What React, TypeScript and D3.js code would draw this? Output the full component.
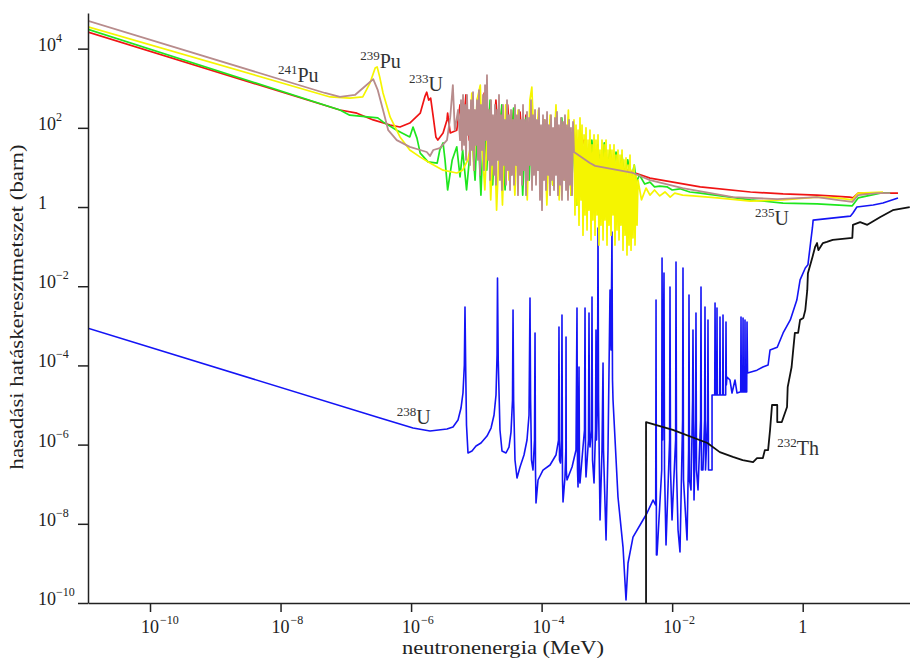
import React, { useEffect, useRef } from 'react';
import * as d3 from 'd3';

// Fission cross sections.
// Each point: [log10 neutron energy (MeV), log10 cross section (barn)]
const pu241 = [
  [-10.95, 4.70], [-7.32, 2.88], [-7.09, 2.78], [-6.86, 2.83], [-6.74, 3.00], [-6.58, 3.23], [-6.51, 2.95], [-6.43, 2.45],
  [-6.35, 1.94], [-6.22, 1.69], [-6.02, 1.52], [-5.86, 1.44], [-5.76, 1.39], [-5.71, 1.29], [-5.66, 1.44], [-5.56, 1.49],
  [-5.45, 1.69], [-5.40, 2.27], [-5.36, 3.08], [-5.33, 1.94], [-5.28, 2.45],
  [-5.250, 1.69], [-5.235, 2.70], [-5.220, 1.44], [-5.204, 2.83], [-5.189, 1.57], [-5.174, 2.58], [-5.158, 1.19], [-5.143, 2.83],
  [-5.128, 1.82], [-5.112, 2.45], [-5.097, 1.06], [-5.082, 2.70], [-5.066, 1.44], [-5.051, 2.90], [-5.036, 0.93], [-5.021, 2.45],
  [-5.005, 1.57], [-4.990, 2.70], [-4.975, 1.19], [-4.959, 2.95], [-4.944, 0.81], [-4.929, 2.58], [-4.913, 1.44], [-4.898, 2.83],
  [-4.883, 0.93], [-4.867, 3.08], [-4.852, 1.69], [-4.837, 3.33], [-4.821, 1.19], [-4.806, 2.45], [-4.791, 0.68], [-4.775, 2.70],
  [-4.760, 1.06], [-4.745, 2.32], [-4.729, 0.81], [-4.714, 2.58], [-4.699, 0.56], [-4.683, 2.45], [-4.668, 1.19], [-4.653, 2.83],
  [-4.638, 0.68], [-4.622, 2.32], [-4.607, 0.43], [-4.592, 2.58], [-4.576, 1.06], [-4.561, 2.20], [-4.546, 0.56], [-4.530, 2.70],
  [-4.515, 0.93], [-4.500, 2.32], [-4.484, 0.43], [-4.469, 2.45], [-4.454, 0.81], [-4.438, 2.20], [-4.423, 0.56], [-4.408, 2.58],
  [-4.392, 1.06], [-4.377, 2.32], [-4.362, 0.30], [-4.346, 2.45], [-4.331, 0.81], [-4.316, 2.20], [-4.300, 0.56], [-4.285, 2.58],
  [-4.270, 0.93], [-4.254, 2.20], [-4.239, 0.30], [-4.224, 2.40], [-4.209, 0.68], [-4.193, 2.25], [-4.178, 1.06], [-4.163, 2.70],
  [-4.147, 0.43], [-4.132, 2.32], [-4.117, 0.81], [-4.101, 2.45], [-4.086, 0.56], [-4.071, 2.20], [-4.055, 0.93], [-4.040, 2.50],
  [-4.025, 0.18], [-4.009, 2.07], [-3.994, -0.08], [-3.979, 2.32], [-3.963, 0.68], [-3.948, 2.20], [-3.933, 0.43], [-3.917, 2.40],
  [-3.902, 0.81], [-3.887, 2.07], [-3.871, 0.30], [-3.856, 2.32], [-3.841, 0.68], [-3.825, 2.00], [-3.810, 0.43], [-3.795, 2.25],
  [-3.780, 0.81], [-3.764, 2.40], [-3.749, 0.30], [-3.734, 2.07], [-3.718, 0.56], [-3.703, 2.25], [-3.688, 0.18], [-3.672, 2.15],
  [-3.657, 0.68], [-3.642, 2.32], [-3.626, 0.43], [-3.611, 2.07], [-3.596, 0.18], [-3.580, 2.20], [-3.565, 0.56], [-3.550, 2.00],
  [-3.534, 0.30], [-3.519, 2.15], [-3.504, 1.39],
  [-3.26, 1.11], [-3.18, 1.04], [-2.60, 0.86], [-2.34, 0.68], [-1.84, 0.48], [-1.07, 0.25], [-0.39, 0.20], [0.01, 0.23],
  [0.22, 0.25], [0.52, 0.18], [0.76, 0.13], [0.85, 0.30], [1.14, 0.35], [1.34, 0.35],
];

const u233 = [
  [-10.95, 4.42], [-7.09, 2.45], [-6.83, 2.37], [-6.58, 2.20], [-6.32, 2.07], [-6.17, 2.02], [-6.02, 2.12], [-5.86, 2.37],
  [-5.79, 2.78], [-5.76, 2.90], [-5.73, 2.70], [-5.70, 2.75], [-5.66, 2.27], [-5.62, 1.77], [-5.59, 1.69], [-5.51, 1.87],
  [-5.45, 2.20], [-5.44, 2.37], [-5.40, 1.87], [-5.30, 1.94],
  [-5.25, 2.58], [-5.21, 1.82], [-5.16, 2.83], [-5.11, 1.69], [-5.07, 2.70], [-5.02, 1.57], [-4.98, 2.75], [-4.93, 1.74],
  [-4.88, 2.88], [-4.84, 1.82], [-4.79, 2.58], [-4.75, 1.44], [-4.70, 2.70], [-4.66, 1.69], [-4.61, 2.50], [-4.56, 1.57],
  [-4.52, 2.58], [-4.47, 1.44], [-4.43, 2.45], [-4.38, 1.69], [-4.33, 2.40], [-4.29, 1.44], [-4.24, 2.32], [-4.19, 1.57],
  [-4.15, 2.40], [-4.10, 1.44], [-4.05, 2.25], [-4.01, 1.31], [-3.96, 2.20], [-3.92, 1.44], [-3.87, 2.15], [-3.83, 1.31],
  [-3.78, 2.07], [-3.73, 1.44], [-3.69, 2.00], [-3.64, 1.31], [-3.59, 1.94], [-3.55, 1.19], [-3.50, 1.82], [-3.44, 1.31],
  [-3.35, 1.69], [-3.26, 1.19], [-3.11, 1.31], [-2.88, 1.06], [-2.60, 0.88], [-2.34, 0.73], [-1.57, 0.51], [-0.80, 0.38],
  [-0.30, 0.33], [0.22, 0.30], [0.72, 0.25], [0.77, 0.23], [0.85, 0.35], [1.46, 0.35],
];

const u235 = [
  [-10.95, 4.49], [-7.09, 2.45], [-6.94, 2.32], [-6.63, 2.27], [-6.51, 2.25], [-6.43, 2.15], [-6.22, 1.94], [-6.02, 1.77],
  [-5.97, 2.02], [-5.91, 1.74], [-5.86, 1.36], [-5.74, 1.14], [-5.60, 1.11], [-5.56, 1.44], [-5.51, 1.62], [-5.48, 1.19],
  [-5.44, 0.43], [-5.37, 1.19], [-5.30, 1.52], [-5.25, 0.76], [-5.21, 1.44], [-5.15, 0.43], [-5.07, 1.87],
  [-5.02, 0.68], [-4.98, 2.20], [-4.93, 0.30], [-4.88, 2.45], [-4.84, 0.93], [-4.79, 2.70], [-4.75, 0.56], [-4.70, 2.32],
  [-4.66, 1.19], [-4.61, 2.58], [-4.56, 0.43], [-4.52, 2.20], [-4.47, 0.81], [-4.43, 2.50], [-4.38, 1.06], [-4.33, 2.07],
  [-4.29, 0.30], [-4.24, 2.25], [-4.19, 0.68], [-4.15, 2.32], [-4.10, 0.93], [-4.05, 2.15], [-4.01, 0.43], [-3.96, 2.07],
  [-3.92, 0.81], [-3.87, 2.20], [-3.83, 0.56], [-3.78, 1.94], [-3.73, 0.93], [-3.69, 2.25], [-3.64, 0.68], [-3.59, 2.07],
  [-3.55, 0.30], [-3.50, 1.82], [-3.46, 0.05], [-3.40, 1.69], [-3.37, 0.43], [-3.32, 1.57], [-3.27, 0.18], [-3.23, 1.69],
  [-3.18, 0.68], [-3.14, 1.57], [-3.09, 0.81], [-3.04, 1.62], [-3.00, 0.93], [-2.95, 1.44], [-2.91, 0.81], [-2.86, 1.39],
  [-2.81, 0.88], [-2.77, 1.31], [-2.73, 0.81], [-2.68, 1.19], [-2.63, 0.68], [-2.58, 1.06], [-2.55, 0.63], [-2.50, 0.81],
  [-2.42, 0.58], [-2.34, 0.63], [-2.27, 0.51], [-2.19, 0.53], [-2.08, 0.51], [-2.00, 0.43], [-1.88, 0.46], [-1.73, 0.38],
  [-1.57, 0.35], [-0.80, 0.18], [-0.30, 0.10], [0.22, 0.08], [0.76, 0.03], [0.85, 0.23], [1.19, 0.35], [1.34, 0.35],
];

const pu239 = [
  [-10.95, 4.55], [-7.24, 2.78], [-6.94, 2.75], [-6.74, 2.78], [-6.63, 3.13], [-6.55, 3.51], [-6.52, 3.54], [-6.48, 3.28],
  [-6.43, 2.88], [-6.32, 2.27], [-6.17, 1.77], [-6.02, 1.44], [-5.86, 1.26], [-5.71, 1.11], [-5.51, 0.93], [-5.30, 0.86],
  [-5.21, 0.93], [-5.13, 1.19], [-5.10, 1.44], [-5.07, 2.88],
  [-5.04, 0.93], [-4.99, 2.70], [-4.94, 3.08], [-4.91, 1.44], [-4.87, 0.43], [-4.82, 2.45], [-4.78, 0.18], [-4.73, 2.20],
  [-4.69, -0.08], [-4.64, 1.94], [-4.60, 0.05], [-4.55, 2.58], [-4.50, 0.68], [-4.46, 2.20], [-4.41, 0.30], [-4.36, 2.45],
  [-4.32, 0.81], [-4.27, 2.07], [-4.22, 0.18], [-4.18, 2.70], [-4.15, 3.03], [-4.10, 0.93], [-4.05, 2.45], [-4.01, 0.43],
  [-3.96, 2.20], [-3.92, 0.05], [-3.87, 2.32], [-3.83, 0.56], [-3.78, 2.58], [-3.73, 0.18], [-3.69, 2.07], [-3.64, 0.68],
  [-3.59, 2.45], [-3.55, 0.30],
  [-3.504, 2.20], [-3.489, -0.20], [-3.473, 2.07], [-3.458, 0.05], [-3.442, 1.94], [-3.427, -0.46], [-3.412, 2.25],
  [-3.396, 0.18], [-3.381, 2.07], [-3.366, -0.71], [-3.350, 1.82], [-3.335, -0.20], [-3.320, 2.00], [-3.304, -0.58],
  [-3.289, 1.69], [-3.274, -0.08], [-3.259, 1.94], [-3.243, -0.83], [-3.228, 1.57], [-3.213, -0.33], [-3.197, 1.82],
  [-3.182, -0.71], [-3.167, 1.69], [-3.151, -0.20], [-3.136, 1.82], [-3.121, -0.96], [-3.105, 1.44], [-3.090, -0.46],
  [-3.075, 1.69], [-3.059, -0.83], [-3.044, 1.57], [-3.029, -0.33], [-3.013, 1.69], [-2.998, -0.96], [-2.983, 1.44],
  [-2.967, -0.46], [-2.952, 1.57], [-2.937, -0.71], [-2.922, 1.44], [-2.906, -0.20], [-2.891, 1.57], [-2.876, -0.96],
  [-2.860, 1.31], [-2.845, -0.58], [-2.830, 1.44], [-2.814, -0.83], [-2.799, 1.31], [-2.784, -0.46], [-2.768, 1.44],
  [-2.753, -1.09], [-2.738, 1.19], [-2.722, -0.71], [-2.707, 1.24], [-2.692, -1.21], [-2.676, 1.06], [-2.661, -0.96],
  [-2.646, 1.31], [-2.630, -1.09], [-2.615, 0.93], [-2.600, -0.78], [-2.584, 1.06], [-2.569, -0.96], [-2.554, 0.81],
  [-2.538, -0.46], [-2.523, 0.68],
  [-2.47, 0.18], [-2.40, 0.48], [-2.34, 0.30], [-2.27, 0.43], [-2.19, 0.28], [-2.11, 0.38], [-2.03, 0.25], [-1.96, 0.35],
  [-1.84, 0.30], [-1.68, 0.28], [-1.31, 0.23], [-0.80, 0.15], [-0.30, 0.18], [0.22, 0.25], [0.52, 0.23], [0.76, 0.18],
  [0.85, 0.35], [1.23, 0.38],
];

const u238 = [
  [-10.95, -3.06], [-6.476, -5.329], [-5.970, -5.581], [-5.710, -5.657], [-5.450, -5.606], [-5.358, -5.556],
  [-5.281, -5.379], [-5.235, -5.076], [-5.205, -4.697], [-5.184, -3.990], [-5.174, -2.526], [-5.163, -4.116],
  [-5.151, -5.505], [-5.128, -6.212], [-5.067, -6.162], [-5.005, -6.036], [-4.929, -5.960], [-4.837, -5.783],
  [-4.775, -5.581], [-4.729, -5.253], [-4.699, -4.748], [-4.683, -3.738], [-4.676, -1.793], [-4.665, -3.864],
  [-4.638, -5.632], [-4.607, -6.162], [-4.546, -6.212], [-4.500, -6.061], [-4.469, -5.682], [-4.446, -4.874],
  [-4.438, -2.601], [-4.429, -4.874], [-4.408, -6.389], [-4.377, -6.844], [-4.331, -6.566], [-4.270, -6.263],
  [-4.224, -5.884], [-4.193, -5.253], [-4.178, -2.298], [-4.169, -4.874], [-4.155, -6.389], [-4.132, -6.642],
  [-4.109, -5.884], [-4.101, -3.182], [-4.094, -6.642], [-4.086, -7.475],
  [-4.055, -6.894], [-3.979, -6.642], [-3.871, -6.515], [-3.780, -6.263], [-3.741, -5.884], [-3.734, -3.031],
  [-3.726, -6.389], [-3.711, -6.465], [-3.695, -5.884], [-3.688, -2.728], [-3.680, -6.894], [-3.672, -7.450],
  [-3.642, -6.818], [-3.629, -6.137], [-3.626, -3.283], [-3.622, -6.642], [-3.611, -6.894], [-3.534, -6.566],
  [-3.473, -6.137], [-3.458, -2.551], [-3.450, -6.642], [-3.442, -7.071], [-3.427, -4.041], [-3.419, -6.894],
  [-3.412, -6.970], [-3.366, -6.061], [-3.343, -5.632], [-3.335, -2.551], [-3.327, -6.389], [-3.320, -6.818],
  [-3.282, -5.884], [-3.274, -2.677], [-3.266, -5.884], [-3.259, -6.061], [-3.236, -5.632], [-3.228, -2.273],
  [-3.220, -6.389], [-3.197, -6.970], [-3.174, -5.632], [-3.167, -3.106], [-3.159, -5.884], [-3.144, -4.874],
  [-3.136, -0.531], [-3.128, -4.874], [-3.105, -7.904], [-3.075, -6.137], [-3.059, -3.940], [-3.052, -6.137],
  [-3.013, -8.410], [-2.983, -6.137], [-2.952, -2.096], [-2.937, -3.612], [-2.922, -0.632], [-2.914, -4.369],
  [-2.906, -4.874], [-2.830, -7.324], [-2.753, -8.587], [-2.707, -9.925], [-2.676, -8.990], [-2.600, -8.334],
  [-2.447, -7.904], [-2.385, -7.728], [-2.293, -7.400],
  [-2.252, -7.526], [-2.247, -2.349], [-2.241, -8.788], [-2.232, -8.788], [-2.160, -6.642], [-2.155, -1.288],
  [-2.146, -5.884], [-2.125, -1.667], [-2.117, -6.642], [-2.094, -8.536], [-2.039, -5.884], [-2.033, -2.021],
  [-2.025, -6.642], [-2.002, -7.904], [-1.947, -5.884], [-1.941, -1.389], [-1.933, -6.642], [-1.910, -8.157],
  [-1.880, -8.713], [-1.840, -5.379], [-1.834, -1.541], [-1.826, -6.894], [-1.772, -8.410], [-1.748, -6.137],
  [-1.742, -2.223], [-1.734, -6.894], [-1.711, -7.147], [-1.687, -4.874], [-1.681, -3.106], [-1.665, -7.400],
  [-1.641, -5.379], [-1.635, -2.677], [-1.627, -6.642], [-1.604, -7.147], [-1.564, -5.379], [-1.558, -2.021],
  [-1.551, -6.642], [-1.528, -6.642], [-1.503, -5.379], [-1.497, -2.526], [-1.489, -6.642], [-1.457, -5.379],
  [-1.451, -2.854], [-1.443, -6.642], [-1.389, -6.642], [-1.389, -4.748],
  [-1.348, -4.748], [-1.343, -2.425], [-1.336, -4.748], [-1.316, -4.748], [-1.313, -2.551], [-1.308, -4.748],
  [-1.272, -4.748], [-1.267, -2.778], [-1.262, -4.748], [-1.226, -4.748], [-1.221, -2.728], [-1.216, -4.748],
  [-1.180, -4.748], [-1.175, -2.905], [-1.170, -4.496], [-1.160, -4.293], [-1.114, -4.369], [-1.083, -4.697],
  [-1.037, -4.369], [-1.006, -4.697], [-0.960, -4.672], [-0.950, -4.672], [-0.945, -2.778], [-0.940, -4.672],
  [-0.919, -4.672], [-0.914, -2.804], [-0.910, -4.672], [-0.888, -4.672], [-0.884, -2.854], [-0.879, -4.672],
  [-0.858, -4.672], [-0.853, -2.905], [-0.845, -4.192],
  [-0.70, -4.12], [-0.61, -4.04], [-0.53, -3.99], [-0.50, -3.61], [-0.39, -3.54], [-0.30, -3.18], [-0.19, -2.85],
  [-0.09, -2.35], [-0.04, -1.84], [0.04, -1.54], [0.08, -1.46], [0.12, -0.91], [0.15, -0.51], [0.16, -0.33],
  [0.73, -0.23], [0.77, -0.15], [0.83, 0.00], [1.08, 0.05], [1.23, 0.10], [1.46, 0.23],
];

const th232 = [
  [-2.40, -10.0], [-2.40, -5.43], [-1.99, -5.63], [-1.46, -5.96], [-1.27, -6.19], [-1.07, -6.31], [-0.92, -6.39],
  [-0.76, -6.44], [-0.70, -6.34], [-0.61, -6.34], [-0.58, -6.14], [-0.53, -6.14], [-0.50, -5.63], [-0.47, -5.00],
  [-0.39, -5.00], [-0.39, -5.43], [-0.32, -5.43], [-0.24, -5.05], [-0.23, -4.55], [-0.17, -4.04], [-0.15, -3.69],
  [-0.12, -3.18], [-0.07, -3.18], [-0.04, -2.85], [0.01, -2.80], [0.04, -2.60], [0.07, -2.10], [0.08, -1.67],
  [0.15, -1.26], [0.19, -1.01], [0.22, -0.91], [0.24, -1.09], [0.31, -0.91], [0.37, -0.88], [0.46, -0.83],
  [0.76, -0.78], [0.77, -0.45], [0.88, -0.38], [0.99, -0.45], [1.19, -0.25], [1.38, -0.08], [1.64, 0.00],
];

// axis ranges and ticks (decade exponents)
const xDomainExp = [-10.95, 1.644];
const yDomainExp = [-10, 4.9];
const xTickExp = [-10, -8, -6, -4, -2, 0];
const yTickExp = [4, 2, 0, -2, -4, -6, -8, -10];

// isotope labels: mass number, element, anchor [log10 E, log10 sigma]
const labelMass = ['241', '239', '233', '235', '238', '232'];
const labelElement = ['Pu', 'Pu', 'U', 'U', 'U', 'Th'];
const labelAnchor = [[-8.04, 3.16], [-6.78, 3.51], [-6.03, 2.93], [-0.73, -0.45], [-6.22, -5.48], [-0.39, -6.26]];

const series = [
  { name: 'u238', data: u238, color: '#1414f5', width: 1.6 },
  { name: 'th232', data: th232, color: '#111111', width: 1.8 },
  { name: 'u233', data: u233, color: '#f01414', width: 1.7 },
  { name: 'u235', data: u235, color: '#1ee61e', width: 1.7 },
  { name: 'pu239', data: pu239, color: '#f5f500', width: 1.7 },
  { name: 'pu241', data: pu241, color: '#b88c8c', width: 1.8 },
];

const W = 910;
const H = 659;
const left = 88, right = 910, top = 13, bottom = 603;
const serif = '"Liberation Serif", "DejaVu Serif", serif';

const minus = (e: number) => (e < 0 ? '\u2212' + Math.abs(e) : String(e));

export default function App() {
  const xAxisRef = useRef<SVGGElement>(null);
  const yAxisRef = useRef<SVGGElement>(null);

  const x = d3.scaleLog().domain([10 ** xDomainExp[0], 10 ** xDomainExp[1]]).range([left, right]);
  const y = d3.scaleLog().domain([10 ** yDomainExp[0], 10 ** yDomainExp[1]]).range([bottom, top]);

  const line = d3.line<number[]>()
    .x(d => x(10 ** d[0]))
    .y(d => y(10 ** d[1]));

  useEffect(() => {
    const gx = d3.select(xAxisRef.current!);
    gx.call(d3.axisBottom(x).tickValues(xTickExp.map(e => 10 ** e)).tickSize(9).tickSizeOuter(0).tickFormat(() => '') as any);
    gx.selectAll('path, line').attr('stroke', '#222').attr('stroke-width', 1.5);

    const gy = d3.select(yAxisRef.current!);
    gy.call(d3.axisLeft(y).tickValues(yTickExp.map(e => 10 ** e)).tickSize(10).tickSizeOuter(0).tickFormat(() => '') as any);
    gy.selectAll('path, line').attr('stroke', '#222').attr('stroke-width', 1.5);
  }, []);

  return (
    <svg width={W} height={H} style={{ position: 'absolute', left: 0, top: 0, background: '#fff' }} fontFamily={serif}>
      <defs>
        <clipPath id="plot">
          <rect x={left} y={top} width={right - left} height={bottom - top + 1} />
        </clipPath>
      </defs>

      <g clipPath="url(#plot)">
        {series.map(s => (
          <path key={s.name} d={line(s.data) || ''} fill="none" stroke={s.color}
            strokeWidth={s.width} strokeLinejoin="round" />
        ))}
      </g>

      <g ref={xAxisRef} transform={`translate(0,${bottom})`} />
      <g ref={yAxisRef} transform={`translate(${left},0)`} />

      {xTickExp.map(e => (
        <g key={'xt' + e} fill="#222">
          <text x={x(10 ** e)} y={633} textAnchor="middle" fontSize={18}>{e === 0 ? '1' : '10'}</text>
          {e !== 0 && <text x={x(10 ** e) + 10} y={624} fontSize={12}>{minus(e)}</text>}
        </g>
      ))}

      {yTickExp.map(e => (
        <g key={'yt' + e} fill="#222">
          <text x={38} y={y(10 ** e) + 2} fontSize={18}>{e === 0 ? '1' : '10'}</text>
          {e !== 0 && <text x={56} y={y(10 ** e) - 7} fontSize={12}>{minus(e)}</text>}
        </g>
      ))}

      {labelMass.map((m, i) => (
        <text key={'lab' + i} x={x(10 ** labelAnchor[i][0])} y={y(10 ** labelAnchor[i][1])} fontSize={20} fill="#333">
          <tspan fontSize={13} dy={-8}>{m}</tspan>
          <tspan dy={8}>{labelElement[i]}</tspan>
        </text>
      ))}

      <text x={503} y={654} textAnchor="middle" fontSize={18} fill="#222" textLength={202} lengthAdjust="spacingAndGlyphs">
        neutronenergia (MeV)
      </text>
      <text transform="translate(23,307) rotate(-90)" textAnchor="middle" fontSize={18} fill="#222"
        textLength={325} lengthAdjust="spacingAndGlyphs">
        hasadási hatáskeresztmetszet (barn)
      </text>
    </svg>
  );
}
